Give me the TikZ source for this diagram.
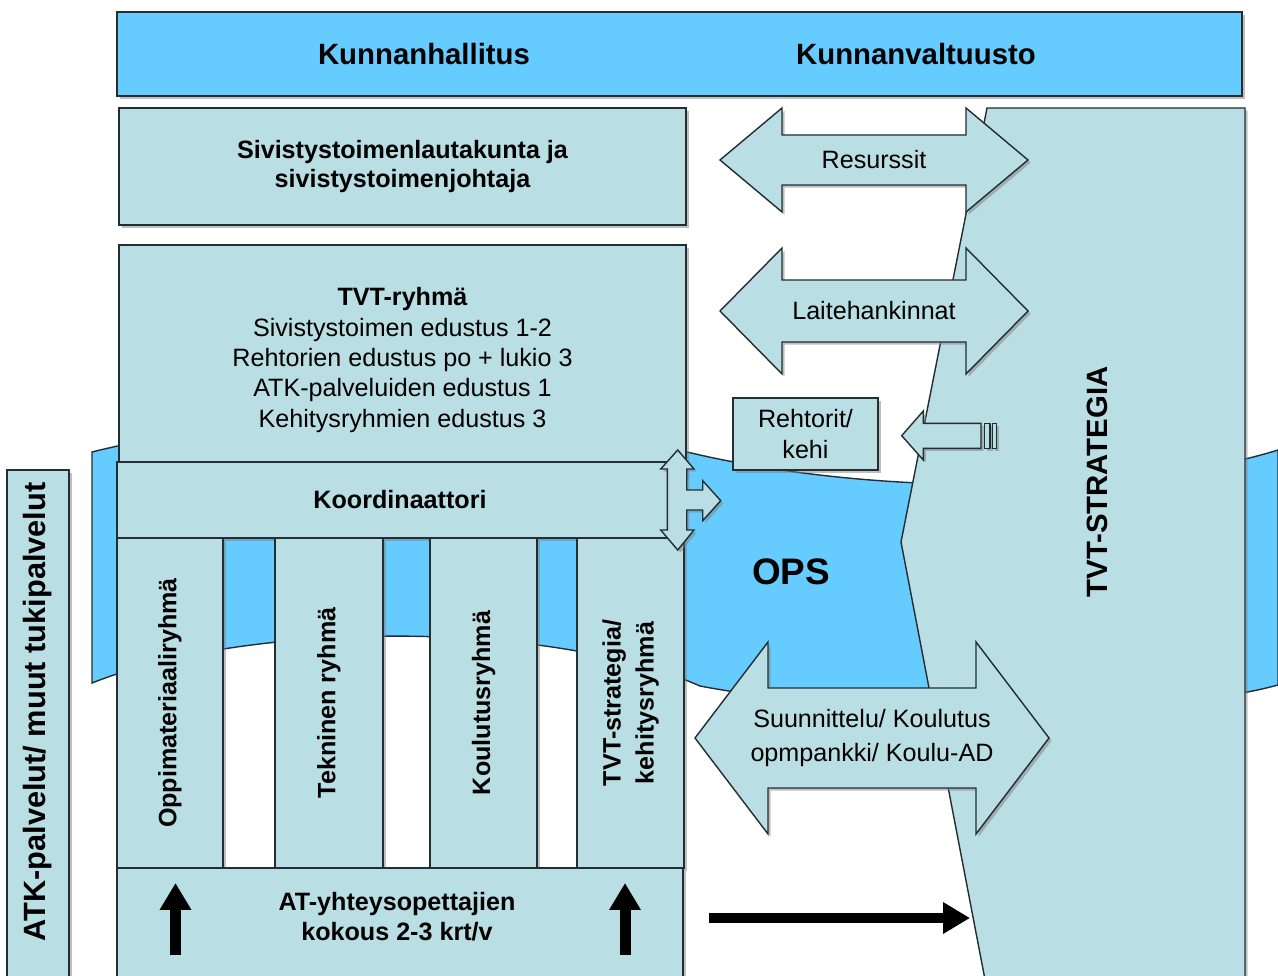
\documentclass[tikz,border=0pt]{standalone}
\usepackage{fontspec}
\setmainfont{Liberation Sans}
\usetikzlibrary{shadows}
\usetikzlibrary{arrows.meta}
\definecolor{taivas}{RGB}{102,204,255}
\definecolor{turkoosi}{RGB}{185,222,227}
\definecolor{reuna}{RGB}{35,45,50}
\newcommand{\perus}{\fontsize{14.3}{17.3}\selectfont}
\newcommand{\isompi}{\fontsize{16.7}{20}\selectfont}
% tuplanuoli: nimi, vasen x, oikea x, y, varren puolikas, karjen puolikas, karjen pituus, teksti
\newcommand{\kaksoisnuoli}[8]{%
  \draw[nuoli] (#2,#4) -- ++(#7,-#6) -- ++(0,#6-#5) -- ++(#3-#2-2*#7,0)
    -- ++(0,#5-#6) -- ++(#7,#6) -- ++(-#7,#6) -- ++(0,#5-#6)
    -- ++(2*#7+#2-#3,0) -- ++(0,#6-#5) -- cycle;
  \node[nuoliteksti] (#1) at ({(#2+#3)/2},#4) {#8};}

\begin{document}
\begin{tikzpicture}[x=0.02cm,y=-0.02cm,
  varjo/.style={drop shadow={shadow xshift=1.5pt,shadow yshift=-1.5pt,opacity=.5}},
  laatikko/.style={draw=reuna,fill=turkoosi,line width=0.8pt,varjo,inner sep=0pt,align=center,font=\perus\bfseries},
  palkki/.style={laatikko,fill=taivas},
  nauha/.style={draw=reuna,fill=taivas,line width=0.8pt},
  nuoli/.style={draw=reuna,fill=turkoosi,line width=0.8pt,varjo},
  nuoliteksti/.style={align=center,font=\perus,inner sep=0pt},
  otsikko/.style={font=\isompi\bfseries,inner sep=0pt},
  musta/.style={line width=0.22cm,-{Triangle[width=0.6cm,length=0.54cm]}}]
  \path[use as bounding box,clip] (0,0) rectangle (1278,976);
  \fill[white] (0,0) rectangle (1278,976);

  % kunta
  \node[palkki,minimum width=22.5cm,minimum height=1.68cm] (hallinto) at (679.5,54) {};
  \node[otsikko] (kh) at (424,54) {Kunnanhallitus};
  \node[otsikko] (kv) at (916,54) {Kunnanvaltuusto};

  % OPS-nauha
  \draw[nauha] (92,452) .. controls (300,400) and (550,420) .. (700,455)
    .. controls (900,500) and (1150,490) .. (1278,450) -- (1278,685)
    .. controls (1150,720) and (850,715) .. (700,686)
    .. controls (550,620) and (250,620) .. (92,683) -- cycle;
  \node[font=\fontsize{21}{24}\selectfont\bfseries,inner sep=0pt] (ops) at (791,572) {OPS};

  % strategia
  \draw[nuoli] (987,108) -- (1245,108) -- (1245,990) -- (987,990) -- (901,542) -- cycle;
  \node[otsikko,rotate=90] (strategia) at (1097,482) {TVT-STRATEGIA};

  \kaksoisnuoli{resurssit}{720}{1028}{160}{25}{52}{62}{Resurssit}
  \kaksoisnuoli{laitteet}{720}{1028}{311}{31}{63}{62}{Laitehankinnat}

  % organisaatio
  \node[laatikko,minimum width=11.34cm,minimum height=2.34cm,font=\fontsize{14.3}{17}\selectfont\bfseries] (sivistys) at (402.5,166.5)
    {Sivistystoimenlautakunta ja\\sivistystoimenjohtaja};
  \node[laatikko,minimum width=11.34cm,minimum height=4.6cm,font=\perus] (tvtryhma) at (402.5,360)
    {\textbf{TVT-ryhmä}\\Sivistystoimen edustus 1-2\\Rehtorien edustus po + lukio 3\\ATK-palveluiden edustus 1\\Kehitysryhmien edustus 3};
  \node[laatikko,minimum width=11.32cm,minimum height=1.52cm] (koordinaattori) at (400,500) {Koordinaattori};
  \node[laatikko,minimum width=2.12cm,minimum height=6.6cm] (oppi) at (170,703) {\rotatebox{90}{Oppimateriaaliryhmä}};
  \node[laatikko,minimum width=2.16cm,minimum height=6.6cm] (tekninen) at (329,703) {\rotatebox{90}{Tekninen ryhmä}};
  \node[laatikko,minimum width=2.14cm,minimum height=6.6cm] (koulutus) at (483.5,703) {\rotatebox{90}{Koulutusryhmä}};
  \node[laatikko,minimum width=2.14cm,minimum height=6.6cm,font=\fontsize{14.3}{18.7}\selectfont\bfseries] (kehitys) at (630.5,703)
    {\rotatebox{90}{\begin{tabular}{@{}c@{}}TVT-strategia/\\kehitysryhmä\end{tabular}}};
  \node[laatikko,minimum width=11.32cm,minimum height=2.64cm] (kokous) at (400,934) {};
  \node[font=\fontsize{14.3}{17}\selectfont\bfseries,align=center,inner sep=0pt] (kokousteksti) at (397,917)
    {AT-yhteysopettajien\\kokous 2-3 krt/v};
  \node[laatikko,minimum width=1.24cm,minimum height=10.6cm] (atk) at (38,735) {};
  \node[font=\fontsize{17.5}{20}\selectfont\bfseries,rotate=90,inner sep=0pt] (atkteksti) at (38,712)
    {ATK-palvelut/ muut tukipalvelut};

  % rehtorit
  \node[laatikko,minimum width=2.9cm,minimum height=1.44cm,font=\fontsize{14.3}{18}\selectfont] (rehtorit) at (805.5,434)
    {Rehtorit/\\kehi};
  \draw[nuoli] (901.7,435.7) -- (923.3,411) -- (923.3,423.3) -- (981,423.3) -- (981,448.3)
    -- (923.3,448.3) -- (923.3,460) -- cycle;
  \draw[nuoli] (984.3,423.3) rectangle (990,448.3);
  \draw[nuoli] (992.7,423.3) rectangle (996.7,448.3);

  \kaksoisnuoli{suunnittelu}{695}{1049}{738}{50}{96}{73}{Suunnittelu/ Koulutus\\[2pt]opmpankki/ Koulu-AD}

  % koordinaattorin nuoli
  \draw[nuoli] (677.7,450) -- (694,469) -- (686.7,469) -- (686.7,490) -- (702.7,490) -- (702.7,480.7)
    -- (720.7,500.7) -- (702.7,520.7) -- (702.7,510) -- (686.7,510) -- (686.7,530) -- (694,530)
    -- (677.7,550) -- (660.7,530) -- (667.3,530) -- (667.3,469) -- (660.7,469) -- cycle;

  % mustat nuolet
  \coordinate (ala1) at (175.5,955);
  \coordinate (yla1) at (175.5,883);
  \coordinate (ala2) at (625,955);
  \coordinate (yla2) at (625,883);
  \coordinate (vasen) at (709,918);
  \coordinate (oikea) at (970,918);
  \draw[musta] (ala1) -- (yla1);
  \draw[musta] (ala2) -- (yla2);
  \draw[musta,line width=0.2cm] (vasen) -- (oikea);
\end{tikzpicture}
\end{document}
